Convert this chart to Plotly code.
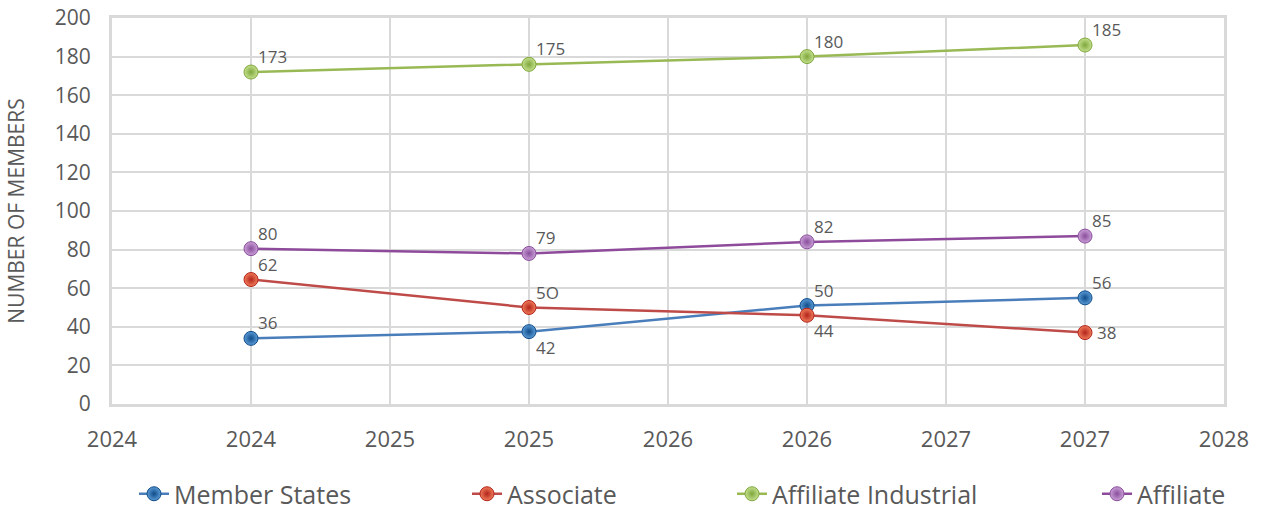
import plotly.graph_objects as go

years_x = [1, 2, 3, 4]
tick_vals = [0.5, 1, 1.5, 2, 2.5, 3, 3.5, 4, 4.5]
tick_text = ["2024", "2024", "2025", "2025", "2026", "2026", "2027", "2027", "2028"]

member_states = [34, 37.5, 51, 55]
member_states_lbl = ["36", "42", "50", "56"]
associate = [64.5, 50, 46, 37]
associate_lbl = ["62", "5O", "44", "38"]
affiliate_ind = [172, 176, 180, 186]
affiliate_ind_lbl = ["173", "175", "180", "185"]
affiliate = [80.5, 78, 84, 87]
affiliate_lbl = ["80", "79", "82", "85"]

series = [
    ("Member States", member_states, member_states_lbl, "#4a7ebb", "#5b9bd5", "#0f4c8a",
     ["tr", "br", "tr", "tr"]),
    ("Associate", associate, associate_lbl, "#be4b48", "#f07c5a", "#b3241b",
     ["tr", "tr", "br", "mr"]),
    ("Affiliate Industrial", affiliate_ind, affiliate_ind_lbl, "#98b954", "#c5e08e", "#7fa73c",
     ["tr"] * 4),
    ("Affiliate", affiliate, affiliate_lbl, "#8e4b9b", "#c9a0d6", "#8a4e9c",
     ["tr"] * 4),
]

# body margin is removed in the page, so the figure sits at (0, 0)
legend_text_px = [175, 508, 773, 1138]
W, H = 1264, 509
L, T = 112, 18
R = W - 1224
B = H - 404
FONT = "Open Sans"
GREY = "#595959"

fig = go.Figure()
annotations = []
pos_style = {
    "tr": dict(xanchor="left", yanchor="bottom", xshift=5, yshift=2),
    "br": dict(xanchor="left", yanchor="top", xshift=5, yshift=-2),
    "mr": dict(xanchor="left", yanchor="middle", xshift=10, yshift=0),
}
for i, (name, vals, lbls, lc, mc, oc, tpos) in enumerate(series):
    lg = "legend" if i == 0 else f"legend{i+1}"
    fig.add_trace(go.Scatter(
        x=years_x, y=vals, name=name, mode="lines+markers",
        line=dict(color=lc, width=2.5),
        marker=dict(size=14, color=mc, gradient=dict(type="radial", color=oc),
                    line=dict(color=oc, width=1)),
        legend=lg, cliponaxis=False,
    ))
    for xv, yv, t, p in zip(years_x, vals, lbls, tpos):
        annotations.append(dict(
            x=xv, y=yv, xref="x", yref="y", text=t, showarrow=False,
            font=dict(size=17, color=GREY, family=FONT), **pos_style[p],
        ))

layout_legends = {}
for i, px in enumerate(legend_text_px):
    key = "legend" if i == 0 else f"legend{i+1}"
    layout_legends[key] = dict(
        x=(px - 41) / W, y=1 - 494 / H, xref="container", yref="container",
        xanchor="left", yanchor="middle",
        orientation="h", bgcolor="rgba(0,0,0,0)",
        font=dict(size=25, color=GREY, family=FONT),
        itemclick=False,
    )

fig.update_layout(
    width=W, height=H,
    margin=dict(l=L, r=R, t=T, b=B, autoexpand=False),
    paper_bgcolor="white", plot_bgcolor="white",
    showlegend=True,
    font=dict(family=FONT, color=GREY),
    annotations=annotations,
    **layout_legends,
)
fig.update_xaxes(
    range=[0.5, 4.5], tickvals=tick_vals, ticktext=tick_text,
    showgrid=True, gridcolor="#d9d9d9", gridwidth=2,
    showline=True, linecolor="#d9d9d9", linewidth=3, mirror=True,
    zeroline=False, ticks="", ticklabelstandoff=14, automargin=False,
    ticklabeloverflow="allow",
    tickfont=dict(size=22, color=GREY, family=FONT),
)
fig.update_yaxes(
    range=[0, 200], dtick=20,
    showgrid=True, gridcolor="#d9d9d9", gridwidth=2,
    showline=True, linecolor="#d9d9d9", linewidth=3, mirror=True,
    zeroline=False, ticks="", ticklabelstandoff=14, automargin=False,
    ticklabeloverflow="allow",
    tickfont=dict(size=21, color=GREY, family=FONT),
    title=dict(text="NUMBER OF MEMBERS", font=dict(size=21, color=GREY, family=FONT), standoff=25),
)

fig.write_html("out.html",
               config={"displayModeBar": False},
               post_script="document.body.style.margin='0';document.body.style.overflow='hidden';")
